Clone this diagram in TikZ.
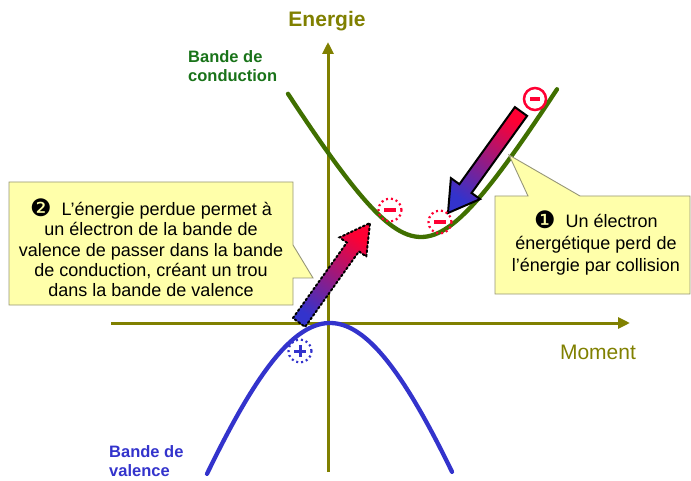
\documentclass[tikz,border=0pt]{standalone}
\usepackage{fontspec}
\setmainfont{Liberation Sans}
\newfontfamily\dejavu{DejaVu Sans}
\usetikzlibrary{arrows.meta}
\definecolor{axisol}{RGB}{128,128,0}
\definecolor{condgreen}{RGB}{64,112,0}
\definecolor{condlabel}{RGB}{25,115,25}
\definecolor{valblue}{RGB}{51,51,204}
\definecolor{elred}{RGB}{255,0,51}
\definecolor{calloutfill}{RGB}{255,255,170}
\definecolor{calloutdraw}{RGB}{150,150,120}
\tikzset{
  axisline/.style={draw=axisol, line width=3pt, -{Triangle[length=12pt,width=11pt]}},
  band/.style={line width=4.3pt, line cap=round, samples=80, smooth},
  callout/.style={fill=calloutfill, draw=calloutdraw, line width=0.9pt, line join=miter},
  callouttext/.style={inner sep=0pt, align=center, text=black},
  bigarrow/.style={top color=elred, bottom color=valblue, shading angle=-35.6, draw=black, line width=2pt, line join=miter},
  holecircle/.style={circle, inner sep=0pt, minimum size=23pt, line width=2.2pt, dash pattern=on 2pt off 3pt},
  solidcircle/.style={circle, inner sep=0pt, minimum size=22pt, line width=2.5pt, draw=elred},
  sign/.style={line width=3.5pt}
}
\newcommand\numdot[1]{\raisebox{-1pt}{\dejavu\fontsize{24}{24}\selectfont #1}}
\begin{document}
\begin{tikzpicture}[x=1pt,y=-1pt]
\useasboundingbox (0,0) rectangle (691,481);

% axes
\coordinate (hx0) at (111,323);
\coordinate (hx1) at (630,323);
\coordinate (vy0) at (328,472);
\coordinate (vy1) at (328,42);
\draw[axisline] (hx0) -- (hx1);
\draw[axisline] (vy0) -- (vy1);

\node[text=axisol, font=\bfseries\fontsize{21}{24}\selectfont, anchor=base] (energie) at (327,27) {Energie};
\node[text=axisol, font=\fontsize{21}{24}\selectfont, anchor=base] (moment) at (598,359) {Moment};

% bands
\draw[band, draw=condgreen, domain=-133:136] plot ({421+\x}, {237-100*(sqrt(1+(\x/60)^2)-1)});
\draw[band, draw=valblue, domain=-123:122] plot ({330+\x}, {323+325*(sqrt(1+(\x/115)^2)-1)});

\node[text=condlabel, font=\bfseries\fontsize{16.5}{19.5}\selectfont, align=left, inner sep=0pt, anchor=west] (condlab) at (188,66) {Bande de\\conduction};
\node[text=valblue, font=\bfseries\fontsize{16.5}{19.5}\selectfont, align=left, inner sep=0pt, anchor=west] (vallab) at (109,461) {Bande de\\valence};

% callouts
\path[callout] (9,182) -- (293,182) -- (293,245) -- (313,278) -- (293,278) -- (293,305) -- (9,305) -- cycle;
\node[callouttext, font=\fontsize{18}{20.3}\selectfont] (txt2) at (151,248) {\numdot{❷}\hspace{5pt} L’énergie perdue permet à\\un électron de la bande de\\valence de passer dans la bande\\de conduction, créant un trou\\dans la bande de valence};

\path[callout] (495,196) -- (528,196) -- (509,155) -- (580,196) -- (690,196) -- (690,294) -- (495,294) -- cycle;
\node[callouttext, font=\fontsize{18}{21.8}\selectfont] (txt1) at (596,243) {\numdot{❶}\hspace{5pt} Un électron\\énergétique perd de\\l’énergie par collision};

% arrows
\path[bigarrow] (514.9,107.1) -- (459.4,184.2) -- (450.9,178.1) -- (448,213) -- (480.1,199.1) -- (471.6,193.0) -- (527.1,115.9) -- cycle;
\path[bigarrow, dash pattern=on 2pt off 2.4pt, line cap=round] (292.9,318.1) -- (346.8,242.6) -- (339.5,237.4) -- (370,223) -- (366.3,256.6) -- (359.0,251.4) -- (305.1,326.9) -- cycle;

% electrons and hole
\node[solidcircle] (e0) at (535,99) {};
\draw[sign, draw=elred] ([xshift=-5pt]e0.center) -- ([xshift=5pt]e0.center);

\node[holecircle, draw=elred] (e1) at (390,210) {};
\draw[sign, draw=elred] ([xshift=-6pt]e1.center) -- ([xshift=6pt]e1.center);

\node[holecircle, draw=elred] (e2) at (440,222) {};
\draw[sign, draw=elred] ([xshift=-6pt]e2.center) -- ([xshift=6pt]e2.center);

\node[holecircle, draw=valblue] (h1) at (300,351) {};
\draw[line width=3pt, draw=valblue] ([xshift=-6pt]h1.center) -- ([xshift=6pt]h1.center);
\draw[line width=3pt, draw=valblue] ([yshift=-6pt]h1.center) -- ([yshift=6pt]h1.center);
\end{tikzpicture}
\end{document}
